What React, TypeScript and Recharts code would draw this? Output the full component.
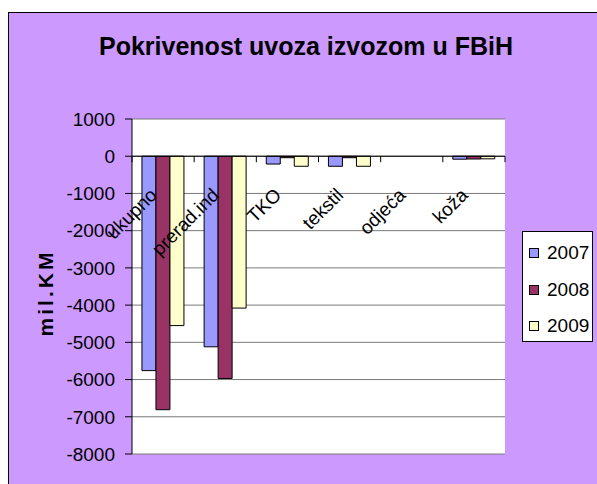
import React from 'react';
import { BarChart, Bar, XAxis, YAxis, CartesianGrid, ReferenceLine } from 'recharts';

const categories = ['ukupno', 'prerad.ind', 'TKO', 'tekstil', 'odjeća', 'koža'];
const v2007 = [-5760, -5120, -210, -270, 0, -80];
const v2008 = [-6810, -5970, -40, -40, 0, -75];
const v2009 = [-4550, -4080, -270, -270, 0, -70];
const years = ['2007', '2008', '2009'];
const colors = ['#9999FF', '#993366', '#FFFFCC'];
const yTicks = [1000, 0, -1000, -2000, -3000, -4000, -5000, -6000, -7000, -8000];
const Y_MIN = -8000;
const Y_MAX = 1000;
const title = 'Pokrivenost uvoza izvozom u FBiH';
const yLabel = 'mil.KM';

const data = categories.map((name, i) => ({
  name,
  y2007: v2007[i],
  y2008: v2008[i],
  y2009: v2009[i],
}));

const W = 597;
const H = 484;
const M_TOP = 119;
const X_AXIS_H = 2;
const M_BOTTOM = 30 - X_AXIS_H;
const M_RIGHT = 92;
const Y_AXIS_W = 132;
const PLOT_TOP = M_TOP;
const PLOT_BOTTOM = H - M_BOTTOM - X_AXIS_H;
const zeroY = PLOT_TOP + ((Y_MAX - 0) / (Y_MAX - Y_MIN)) * (PLOT_BOTTOM - PLOT_TOP);
const HALF_BAND = (W - M_RIGHT - Y_AXIS_W) / categories.length / 2;
const FONT = '"Liberation Sans", Arial, sans-serif';

function CatTick(props: any) {
  const { x, payload, index, visibleTicksCount } = props;
  const off = payload && payload.offset > 1 ? payload.offset : HALF_BAND;
  const coord = payload && typeof payload.coordinate === 'number' ? payload.coordinate : x;
  const left = coord - off;
  const right = coord + off;
  const ax = coord - 5;
  const ay = zeroY + 40;
  const isLast = index === (visibleTicksCount ?? categories.length) - 1;
  return (
    <g>
      <line x1={left} x2={left} y1={zeroY} y2={zeroY + 6} stroke="#000" strokeWidth={1} />
      {isLast && <line x1={right} x2={right} y1={zeroY} y2={zeroY + 6} stroke="#000" strokeWidth={1} />}
      <text
        x={ax}
        y={ay}
        transform={`rotate(-45 ${ax} ${ay})`}
        textAnchor="end"
        fontSize={19}
        fontFamily={FONT}
        fill="#000"
      >
        {payload.value}
      </text>
    </g>
  );
}

function YLabel(props: any) {
  const vb = props.viewBox || { x: 0 };
  const lx = (vb.x ?? 0) + 53;
  const ly = 293;
  return (
    <text
      x={lx}
      y={ly}
      transform={`rotate(-90 ${lx} ${ly})`}
      textAnchor="middle"
      fontSize={21}
      fontWeight="bold"
      fontFamily={FONT}
      letterSpacing={3}
      fill="#000"
    >
      {yLabel}
    </text>
  );
}

export default function App() {
  return (
    <div style={{ position: 'fixed', left: 0, top: 0, width: W, height: H, overflow: 'hidden', background: '#fff', fontFamily: FONT }}>
      <div
        style={{
          position: 'absolute',
          left: 8,
          top: 12,
          width: W - 8,
          height: H - 12,
          background: '#CC99FF',
          borderLeft: '1px solid #000',
          borderTop: '1px solid #000',
          boxSizing: 'border-box',
        }}
      />
      <div
        style={{
          position: 'absolute',
          left: 0,
          top: 31,
          width: 612,
          textAlign: 'center',
          fontSize: 25,
          lineHeight: '30px',
          fontWeight: 'bold',
          color: '#000',
          whiteSpace: 'nowrap',
        }}
      >
        {title}
      </div>
      <div style={{ position: 'absolute', left: 0, top: 0 }}>
        <BarChart
          width={W}
          height={H}
          data={data}
          margin={{ top: M_TOP, right: M_RIGHT, bottom: M_BOTTOM, left: 0 }}
          barCategoryGap="16%"
          barGap={0}
        >
          <CartesianGrid vertical={false} horizontal stroke="#7a7a7a" fill="#fff" />
          <YAxis
            width={Y_AXIS_W}
            domain={[Y_MIN, Y_MAX]}
            ticks={yTicks}
            interval={0}
            tickSize={7}
            tickMargin={10}
            axisLine={{ stroke: '#000' }}
            tickLine={{ stroke: '#000' }}
            tick={{ fontSize: 19, fontFamily: FONT, fill: '#000' }}
            label={(p: any) => <YLabel {...p} />}
          />
          <YAxis
            yAxisId="r"
            orientation="right"
            width={0}
            domain={[Y_MIN, Y_MAX]}
            tick={false}
            tickLine={false}
            axisLine={{ stroke: '#888', strokeWidth: 2 }}
          />
          {years.map((yr, i) => (
            <Bar
              key={yr}
              dataKey={`y${yr}`}
              fill={colors[i]}
              stroke="#000"
              strokeWidth={1}
              isAnimationActive={false}
            />
          ))}
          <ReferenceLine y={0} stroke="#000" strokeWidth={1} />
          <XAxis
            dataKey="name"
            height={X_AXIS_H}
            axisLine={false}
            tickLine={false}
            interval={0}
            tick={<CatTick />}
          />
        </BarChart>
      </div>
      <div
        style={{
          position: 'absolute',
          left: 522,
          top: 231,
          width: 71,
          height: 111,
          border: '1px solid #000',
          background: '#fff',
          boxSizing: 'border-box',
        }}
      >
        {years.map((yr, i) => (
          <div key={yr} style={{ position: 'absolute', left: 0, top: 10 + i * 36.5, height: 24, width: 69 }}>
            <div
              style={{
                position: 'absolute',
                left: 6,
                top: 6,
                width: 10,
                height: 10,
                background: colors[i],
                border: '1px solid #000',
                boxSizing: 'border-box',
              }}
            />
            <span style={{ position: 'absolute', left: 24, top: 0, fontSize: 19, lineHeight: '22px', color: '#000' }}>{yr}</span>
          </div>
        ))}
      </div>
    </div>
  );
}
